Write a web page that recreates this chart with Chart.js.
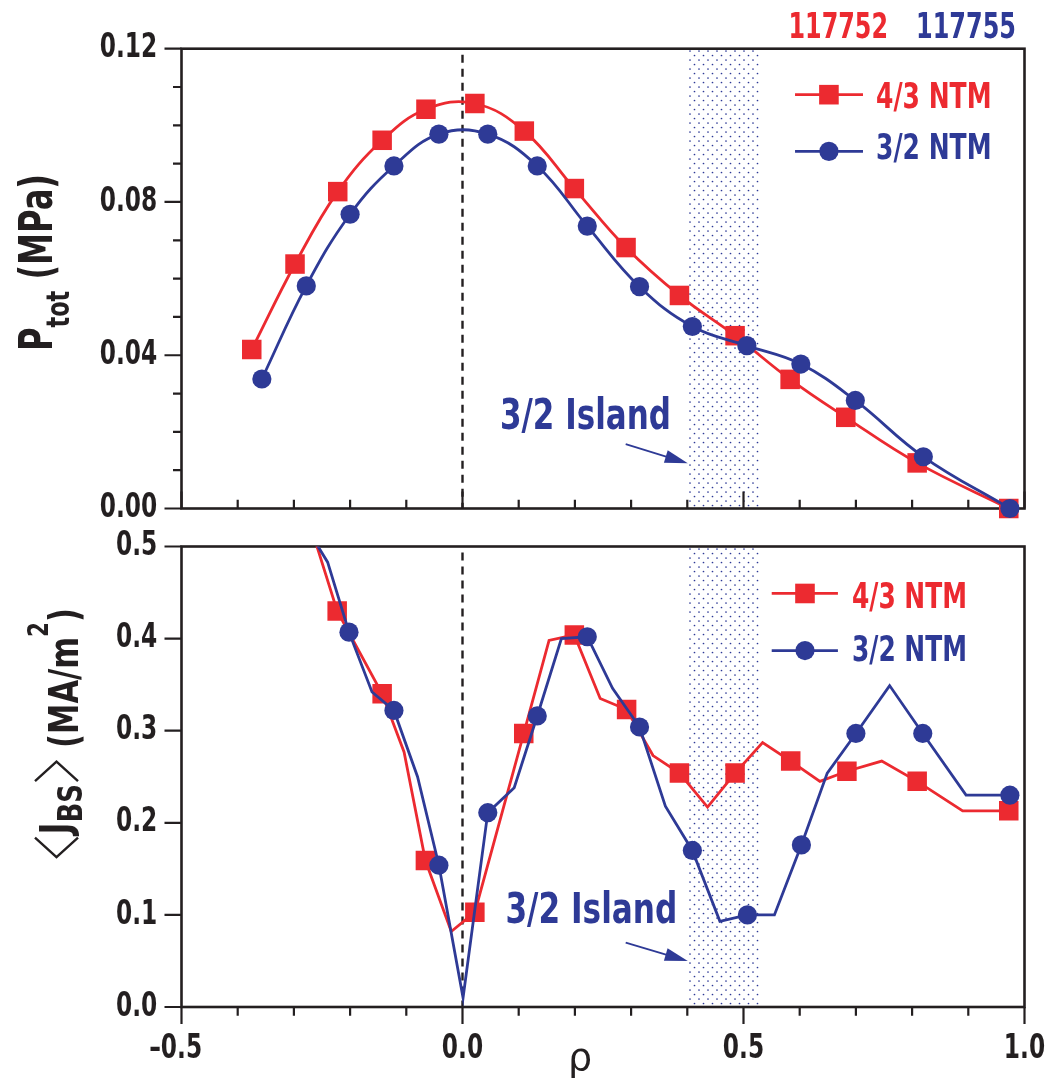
<!DOCTYPE html>
<html><head><meta charset="utf-8">
<script src="https://cdn.jsdelivr.net/npm/chart.js"></script>
<style>
html,body{margin:0;padding:0;background:#fff;}
#wrap{position:relative;width:1047px;height:1083px;overflow:hidden;background:#fff;}
canvas{position:absolute;left:0;}
#cTop{top:0}
#cBot{top:525px}
</style></head><body>
<div id="wrap"><canvas id="cTop" width="1047" height="525"></canvas><canvas id="cBot" width="1047" height="558"></canvas></div>
<script>
// ---------------- data ----------------
const seriesNames = ['4/3 NTM', '3/2 NTM'];
const shotNames = ['117752', '117755'];
// top panel: P_tot (MPa)
const rhoP43 = [-0.375, -0.298, -0.222, -0.143, -0.065, 0.022, 0.110, 0.199, 0.291, 0.386, 0.485, 0.583, 0.682, 0.809, 0.972];
const pTot43 = [0.0415, 0.0638, 0.0827, 0.0961, 0.1042, 0.1057, 0.0985, 0.0835, 0.0681, 0.0556, 0.0451, 0.0337, 0.0238, 0.0119, 0.0];
const rhoP32 = [-0.357, -0.278, -0.200, -0.122, -0.042, 0.045, 0.133, 0.222, 0.315, 0.409, 0.506, 0.602, 0.699, 0.820, 0.974];
const pTot32 = [0.0338, 0.0581, 0.0768, 0.0894, 0.0977, 0.0977, 0.0894, 0.0737, 0.0579, 0.0475, 0.0425, 0.0377, 0.0282, 0.0135, 0.0];
// bottom panel: <J_BS> (MA/m^2); line vertices, with marker flags
const rhoJ43 = [-0.262, -0.223, -0.143, -0.104, -0.066, -0.020, 0.022, 0.109, 0.154, 0.199, 0.245, 0.292, 0.339, 0.386, 0.436, 0.485, 0.534, 0.584, 0.636, 0.684, 0.746, 0.809, 0.890, 0.972];
const jBS43  = [0.506, 0.430, 0.340, 0.277, 0.159, 0.082, 0.103, 0.297, 0.398, 0.404, 0.335, 0.323, 0.273, 0.254, 0.217, 0.254, 0.287, 0.267, 0.245, 0.256, 0.267, 0.245, 0.213, 0.213];
const mark43 = [0, 1, 1, 0, 1, 0, 1, 1, 0, 1, 0, 1, 0, 1, 0, 1, 0, 1, 0, 1, 0, 1, 0, 1];
const rhoJ32 = [-0.263, -0.240, -0.202, -0.161, -0.122, -0.080, -0.042, 0.001, 0.045, 0.092, 0.133, 0.176, 0.222, 0.267, 0.315, 0.361, 0.409, 0.458, 0.507, 0.555, 0.603, 0.649, 0.700, 0.760, 0.819, 0.896, 0.974];
const jBS32  = [0.506, 0.483, 0.407, 0.342, 0.322, 0.250, 0.154, 0.010, 0.211, 0.238, 0.316, 0.400, 0.402, 0.346, 0.304, 0.218, 0.170, 0.093, 0.100, 0.100, 0.176, 0.254, 0.297, 0.349, 0.297, 0.230, 0.230];
const mark32 = [0, 0, 1, 0, 1, 0, 1, 0, 1, 0, 1, 0, 1, 0, 1, 0, 1, 0, 1, 0, 1, 0, 1, 0, 1, 0, 1];
// island band (rho range)
const islandBand = [0.400, 0.528];
// tick labels
const xTickVals = [-0.5, 0.0, 0.5, 1.0];
const xTickText = ['\u20130.5\u2002', '0.0', '0.5', '1.0'];

// ---------------- styles ----------------
const INK = '#231f20', RED = '#ec2a30', BLUE = '#2e3a96';
const LINE_W = 2.8;
function fontAvail(name) {
  const c = document.createElement('canvas').getContext('2d');
  const s = '0.12 3/2 Island NTMmwWi';
  let ok = false;
  for (const fb of ['monospace', 'serif']) {
    c.font = 'bold 40px ' + fb; const a = c.measureText(s).width;
    c.font = 'bold 40px "' + name + '", ' + fb; const b = c.measureText(s).width;
    if (Math.abs(a - b) > 0.5) ok = true;
  }
  return ok;
}
const NARROW = fontAvail('Liberation Sans Narrow') ? '"Liberation Sans Narrow"' :
  (fontAvail('DejaVu Sans Condensed') ? '"DejaVu Sans Condensed"' : '"Liberation Sans"');
const FAM = NARROW + ', "Liberation Sans", sans-serif';
// tick font: digit height 25 px, "0.12" 57.5 px wide
const mctx = document.createElement('canvas').getContext('2d');
mctx.font = 'bold 100px ' + FAM;
const digitRatio = mctx.measureText('0').actualBoundingBoxAscent / 100 || 0.73;
const TICK_SIZE = 25 / digitRatio;
mctx.font = 'bold ' + TICK_SIZE + 'px ' + FAM;
const TICK_HSCALE = Math.min(1, 57.5 / mctx.measureText('0.12').width);

// a linear scale whose tick labels are drawn horizontally condensed
class NarrowLinearScale extends Chart.LinearScale {
  drawLabels(chartArea) {
    const o = this.options.ticks;
    if (!o.display) return;
    const ctx = this.ctx;
    const sx = o.hScale || 1;
    for (const item of this.getLabelItems(chartArea)) {
      const op = item.options;
      ctx.save();
      ctx.font = item.font.string;
      ctx.fillStyle = op.color;
      ctx.textAlign = op.textAlign;
      ctx.textBaseline = op.textBaseline;
      ctx.translate(op.translation[0], op.translation[1]);
      ctx.scale(sx, 1);
      ctx.fillText(item.label, 0, item.textOffset);
      ctx.restore();
    }
  }
}
NarrowLinearScale.id = 'narrowLinear';
NarrowLinearScale.defaults = Chart.LinearScale.defaults;
Chart.register(NarrowLinearScale);

function drawFit(ctx, text, x, y, w, font, color) {
  ctx.save();
  ctx.font = font; ctx.fillStyle = color; ctx.textAlign = 'left'; ctx.textBaseline = 'alphabetic';
  const m = ctx.measureText(text).width;
  ctx.translate(x, y);
  ctx.scale(w / m, 1);
  ctx.fillText(text, 0, 0);
  ctx.restore();
}
// rotated rich text: parts are text {t,font,dy} or angle brackets {br:'<'|'>', w, h}
function drawRotRich(ctx, parts, baseX, centerY, totalLen) {
  const widths = parts.map(p => { if (p.br) return p.w; ctx.font = p.font; return ctx.measureText(p.t).width; });
  const sum = widths.reduce((a, b) => a + b, 0);
  const sx = totalLen / sum;
  ctx.save();
  ctx.translate(baseX, centerY);
  ctx.rotate(-Math.PI / 2);
  ctx.textBaseline = 'alphabetic'; ctx.textAlign = 'left';
  let x = -totalLen / 2;
  parts.forEach((p, i) => {
    const w = widths[i] * sx;
    if (p.br) {
      ctx.strokeStyle = INK; ctx.lineWidth = 2.4; ctx.lineJoin = 'miter';
      const pad = 3, top = -p.h + (p.dy || 0), bot = (p.dy || 0), mid = (top + bot) / 2;
      ctx.beginPath();
      if (p.br === '<') { ctx.moveTo(x + w - pad, top); ctx.lineTo(x + pad, mid); ctx.lineTo(x + w - pad, bot); }
      else { ctx.moveTo(x + pad, top); ctx.lineTo(x + w - pad, mid); ctx.lineTo(x + pad, bot); }
      ctx.stroke();
    } else {
      ctx.save();
      ctx.font = p.font; ctx.fillStyle = INK;
      ctx.translate(x, p.dy || 0); ctx.scale(sx, 1);
      ctx.fillText(p.t, 0, 0);
      ctx.restore();
    }
    x += w;
  });
  ctx.restore();
}
function arrow(ctx, x0, y0, x1, y1, color) {
  const a = Math.atan2(y1 - y0, x1 - x0), L = 23, W = 6.5;
  const bx = x1 - L * Math.cos(a), by = y1 - L * Math.sin(a);
  ctx.save();
  ctx.strokeStyle = color; ctx.lineWidth = 1.8;
  ctx.beginPath(); ctx.moveTo(x0, y0); ctx.lineTo(bx + 2 * Math.cos(a), by + 2 * Math.sin(a)); ctx.stroke();
  ctx.fillStyle = color; ctx.beginPath();
  ctx.moveTo(x1, y1);
  ctx.lineTo(bx - W * Math.sin(a), by + W * Math.cos(a));
  ctx.lineTo(bx + W * Math.sin(a), by - W * Math.cos(a));
  ctx.closePath(); ctx.fill();
  ctx.restore();
}
function marker(ctx, style, x, y, color) {
  ctx.fillStyle = color;
  if (style === 'rect') { ctx.fillRect(x - 9.8, y - 9.8, 19.6, 19.6); }
  else { ctx.beginPath(); ctx.arc(x, y, 9.6, 0, Math.PI * 2); ctx.fill(); }
}
function isMult(v, s) { const r = v / s; return Math.abs(r - Math.round(r)) < 1e-6; }
function dotPattern(ctx) {
  const t = document.createElement('canvas'); t.width = 9; t.height = 9;
  const g = t.getContext('2d'); g.fillStyle = BLUE;
  [[1.5, 1.5], [6, 6]].forEach(([a, b]) => { g.beginPath(); g.arc(a, b, 0.85, 0, Math.PI * 2); g.fill(); });
  return ctx.createPattern(t, 'repeat');
}

// annotation layout (data coordinates of each panel)
const topNotes = {
  header: [{ t: shotNames[0], x: 0.580, y: 0.1228, w: 99.5, c: RED }, { t: shotNames[1], x: 0.807, y: 0.1228, w: 100, c: BLUE }],
  legend: [
    { t: seriesNames[0], c: RED, s: 'rect', y: 0.1080, x0: 0.5917, x1: 0.7126, xm: 0.652, tx: 0.7358, ty: 0.1046, tw: 115.5 },
    { t: seriesNames[1], c: BLUE, s: 'circle', y: 0.0932, x0: 0.5917, x1: 0.7126, xm: 0.652, tx: 0.7358, ty: 0.0911, tw: 115.5 }
  ],
  island: { t: '3/2 Island', x: 0.0667, y: 0.0208, w: 171 },
  arrow: [0.2904, 0.01678, 0.4009, 0.01182],
  titleY: 0.0642, titleX: 51.7, titleLen: 177
};
const botNotes = {
  legend: [
    { t: seriesNames[0], c: RED, s: 'rect', y: 0.4490, x0: 0.5502, x1: 0.668, xm: 0.6094, tx: 0.693, ty: 0.4329, tw: 115 },
    { t: seriesNames[1], c: BLUE, s: 'circle', y: 0.3870, x0: 0.5502, x1: 0.668, xm: 0.6094, tx: 0.693, ty: 0.3755, tw: 115 }
  ],
  island: { t: '3/2 Island', x: 0.0763, y: 0.0909, w: 172 },
  arrow: [0.2904, 0.0698, 0.4009, 0.04995],
  rhoX: 0.209,
  titleY: 0.2964, titleX: 78, titleLen: 252
};

function panelPlugin(which) {
  let pattern = null;
  return {
    id: 'panel_' + which,
    beforeDatasetsDraw(chart) {
      const ctx = chart.ctx, ca = chart.chartArea, xs = chart.scales.x, ys = chart.scales.y;
      if (!pattern) pattern = dotPattern(ctx);
      ctx.save();
      const bx0 = xs.getPixelForValue(islandBand[0]), bx1 = xs.getPixelForValue(islandBand[1]);
      ctx.fillStyle = pattern; ctx.fillRect(bx0, ca.top + 1, bx1 - bx0, ca.bottom - ca.top - 2);
      // dashed rho = 0 line
      const x0 = xs.getPixelForValue(0);
      ctx.strokeStyle = INK; ctx.lineWidth = 2.4; ctx.setLineDash([8, 6]);
      ctx.beginPath(); ctx.moveTo(x0, ca.top + 6); ctx.lineTo(x0, ca.bottom); ctx.stroke();
      ctx.setLineDash([]);
      // frame
      ctx.lineWidth = 2.6; ctx.strokeStyle = INK;
      ctx.strokeRect(ca.left, ca.top, ca.right - ca.left, ca.bottom - ca.top);
      // tick marks
      ctx.lineWidth = 2.2;
      ctx.beginPath();
      ys.ticks.forEach(t => {
        const y = ys.getPixelForValue(t.value);
        const len = which === 'top' ? (isMult(t.value, 0.04) ? 17 : 8.5) : 17;
        ctx.moveTo(ca.left - len, y); ctx.lineTo(ca.left, y);
      });
      xs.ticks.forEach(t => {
        const x = xs.getPixelForValue(t.value);
        const len = isMult(t.value, 0.5) ? 17 : 8.8;
        if (which === 'top') { ctx.moveTo(x, ca.bottom); ctx.lineTo(x, ca.bottom - len); }
        else { ctx.moveTo(x, ca.bottom); ctx.lineTo(x, ca.bottom + len); }
      });
      ctx.stroke();
      ctx.restore();
    },
    afterDatasetsDraw(chart) {
      const ctx = chart.ctx, ca = chart.chartArea, xs = chart.scales.x, ys = chart.scales.y;
      const N = which === 'top' ? topNotes : botNotes;
      const X = v => xs.getPixelForValue(v), Y = v => ys.getPixelForValue(v);
      ctx.save();
      if (N.header) N.header.forEach(h => drawFit(ctx, h.t, X(h.x), Y(h.y), h.w, 'bold 36px ' + FAM, h.c));
      N.legend.forEach(l => {
        const y = Y(l.y);
        ctx.strokeStyle = l.c; ctx.lineWidth = LINE_W;
        ctx.beginPath(); ctx.moveTo(X(l.x0), y); ctx.lineTo(X(l.x1), y); ctx.stroke();
        marker(ctx, l.s, X(l.xm), y, l.c);
        drawFit(ctx, l.t, X(l.tx), Y(l.ty), l.tw, 'bold 35px ' + FAM, l.c);
      });
      drawFit(ctx, N.island.t, X(N.island.x), Y(N.island.y), N.island.w, 'bold 43px ' + FAM, BLUE);
      const a = N.arrow;
      arrow(ctx, X(a[0]), Y(a[1]), X(a[2]), Y(a[3]), BLUE);
      // y-axis title
      if (which === 'top') {
        drawRotRich(ctx, [
          { t: 'P', font: 'bold 46px ' + FAM },
          { t: 'tot', font: 'bold 32px ' + FAM, dy: 17 },
          { t: ' (MPa)', font: 'bold 46px ' + FAM }
        ], N.titleX, Y(N.titleY), N.titleLen);
      } else {
        drawRotRich(ctx, [
          { br: '<', w: 30, h: 43 },
          { t: 'J', font: 'bold 42px ' + FAM, dy: -8 },
          { t: 'BS', font: 'bold 34px ' + FAM, dy: 4 },
          { br: '>', w: 30, h: 43 },
          { t: ' (MA/m', font: 'bold 40px ' + FAM },
          { t: '2', font: 'bold 28px ' + FAM, dy: -30 },
          { t: ')', font: 'bold 40px ' + FAM }
        ], N.titleX, Y(N.titleY), N.titleLen);
        // x-axis title
        ctx.font = '38px "DejaVu Sans", sans-serif'; ctx.fillStyle = INK;
        ctx.textAlign = 'center'; ctx.textBaseline = 'alphabetic';
        ctx.fillText('\u03C1', X(N.rhoX), ca.bottom + 63);
      }
      ctx.restore();
    }
  };
}

const tickFont = { family: FAM, size: TICK_SIZE, weight: 'bold' };
function baseX(showLabels, h) {
  return {
    type: 'narrowLinear', min: -0.5, max: 1.0,
    grid: { display: false, drawTicks: false }, border: { display: false },
    ticks: {
      stepSize: 0.1, autoSkip: false, maxRotation: 0, minRotation: 0,
      display: showLabels, font: tickFont, color: INK, hScale: TICK_HSCALE,
      padding: 42.5 - 0.6 * TICK_SIZE,
      callback: v => { const i = xTickVals.findIndex(t => Math.abs(t - v) < 1e-6); return i >= 0 ? xTickText[i] : ''; }
    },
    afterFit(s) { s.height = h; s.paddingLeft = 0; s.paddingRight = 0; }
  };
}
function baseY(min, max, step, fmt) {
  return {
    type: 'narrowLinear', min, max,
    grid: { display: false, drawTicks: false }, border: { display: false },
    ticks: { stepSize: step, autoSkip: false, font: tickFont, color: INK, padding: 24.3, hScale: TICK_HSCALE, callback: fmt },
    afterFit(s) { s.width = 181.5; s.paddingTop = 0; s.paddingBottom = 0; }
  };
}
const pts = (xs, ys) => xs.map((x, i) => ({ x, y: ys[i] }));

new Chart(document.getElementById('cTop'), {
  type: 'line',
  data: {
    datasets: [
      { label: seriesNames[0], data: pts(rhoP43, pTot43), borderColor: RED, backgroundColor: RED, borderWidth: LINE_W,
        pointStyle: 'rect', pointRadius: 13.8, pointBorderWidth: 0, tension: 0.4, clip: false, order: 2 },
      { label: seriesNames[1], data: pts(rhoP32, pTot32), borderColor: BLUE, backgroundColor: BLUE, borderWidth: LINE_W,
        pointStyle: 'circle', pointRadius: 9.6, pointBorderWidth: 0, tension: 0.4, clip: false, order: 1 }
    ]
  },
  options: {
    responsive: false, animation: false, events: [],
    layout: { padding: { top: 48.7, right: 22.5, left: 0, bottom: 0 } },
    plugins: { legend: { display: false }, tooltip: { enabled: false } },
    scales: {
      x: baseX(false, 16.5),
      y: baseY(0, 0.12, 0.01, v => isMult(v, 0.04) ? v.toFixed(2) : '')
    }
  },
  plugins: [panelPlugin('top')]
});

new Chart(document.getElementById('cBot'), {
  type: 'line',
  data: {
    datasets: [
      { label: seriesNames[0], data: pts(rhoJ43, jBS43), borderColor: RED, backgroundColor: RED, borderWidth: LINE_W,
        pointStyle: 'rect', pointRadius: c => mark43[c.dataIndex] ? 13.8 : 0, pointBorderWidth: 0, tension: 0,
        clip: { top: 0, left: 30, right: 30, bottom: 30 }, order: 2 },
      { label: seriesNames[1], data: pts(rhoJ32, jBS32), borderColor: BLUE, backgroundColor: BLUE, borderWidth: LINE_W,
        pointStyle: 'circle', pointRadius: c => mark32[c.dataIndex] ? 9.6 : 0, pointBorderWidth: 0, tension: 0,
        clip: { top: 0, left: 30, right: 30, bottom: 30 }, order: 1 }
    ]
  },
  options: {
    responsive: false, animation: false, events: [],
    layout: { padding: { top: 21.5, right: 22.5, left: 0, bottom: 0 } },
    plugins: { legend: { display: false }, tooltip: { enabled: false } },
    scales: {
      x: baseX(true, 76),
      y: baseY(0, 0.5, 0.1, v => v.toFixed(1))
    }
  },
  plugins: [panelPlugin('bot')]
});
</script>
</body></html>
